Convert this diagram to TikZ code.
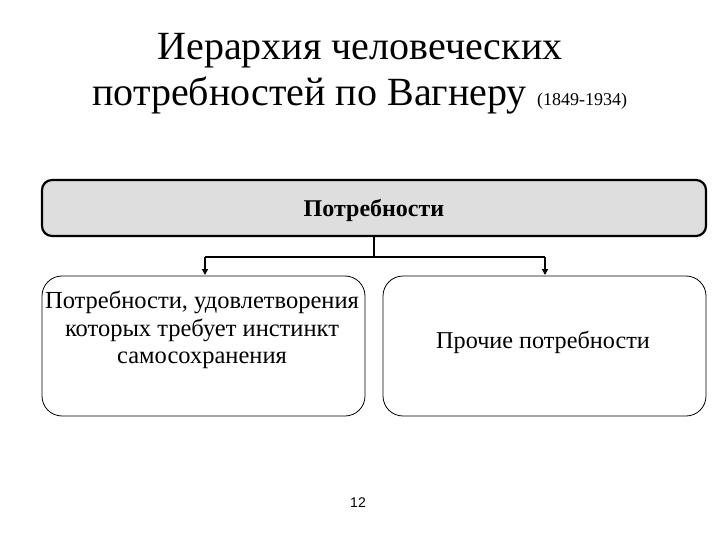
\documentclass[tikz,border=0pt]{standalone}
\usepackage{fontspec}
\setmainfont{Liberation Serif}
\setsansfont{Liberation Sans}
\usetikzlibrary{arrows.meta}
\begin{document}
\begin{tikzpicture}[x=1pt,y=-1pt,
  txt/.style={inner sep=0pt, align=center},
  topbox/.style={draw, line width=2.2pt, rounded corners=10pt, fill=black!13},
  subbox/.style={draw, line width=0.8pt, rounded corners=20pt, fill=white},
  conn/.style={line width=1.4pt},
  arr/.style={conn, -{Triangle[length=6pt,width=6pt]}}]
\useasboundingbox (0,0) rectangle (720,540);
\node[txt, anchor=base, font=\fontsize{40}{48}\selectfont] (t1) at (360,60) {Иерархия человеческих};
\node[txt, anchor=base west, font=\fontsize{40}{48}\selectfont] (t2) at (92,106) {потребностей по Вагнеру};
\node[txt, anchor=base west, font=\fontsize{18}{22}\selectfont] (t3) at (537,106) {(1849-1934)};
\draw[topbox] (42,180) rectangle (706,236);
\node[txt, font=\fontsize{24}{28}\selectfont\bfseries] (top) at (374,210) {Потребности};
\coordinate (topb) at (374,236);
\draw[subbox] (42,276) rectangle (365,416);
\draw[subbox] (383,276) rectangle (706,416);
\coordinate (l) at (205,275);
\coordinate (r) at (545,275);
\node[txt, font=\fontsize{24.5}{27.5}\selectfont] (lt) at (202,330) {Потребности, удовлетворения\\которых требует инстинкт\\самосохранения};
\node[txt, font=\fontsize{24.2}{28}\selectfont] (rt) at (543,342) {Прочие потребности};
\draw[conn] (topb) -- (374,257);
\draw[conn] (l |- 0,257) -- (r |- 0,257);
\draw[arr] (l |- 0,257) -- (l);
\draw[arr] (r |- 0,257) -- (r);
\node[txt, font=\sffamily\fontsize{14}{16}\selectfont] (pg) at (358,503) {12};
\end{tikzpicture}
\end{document}
